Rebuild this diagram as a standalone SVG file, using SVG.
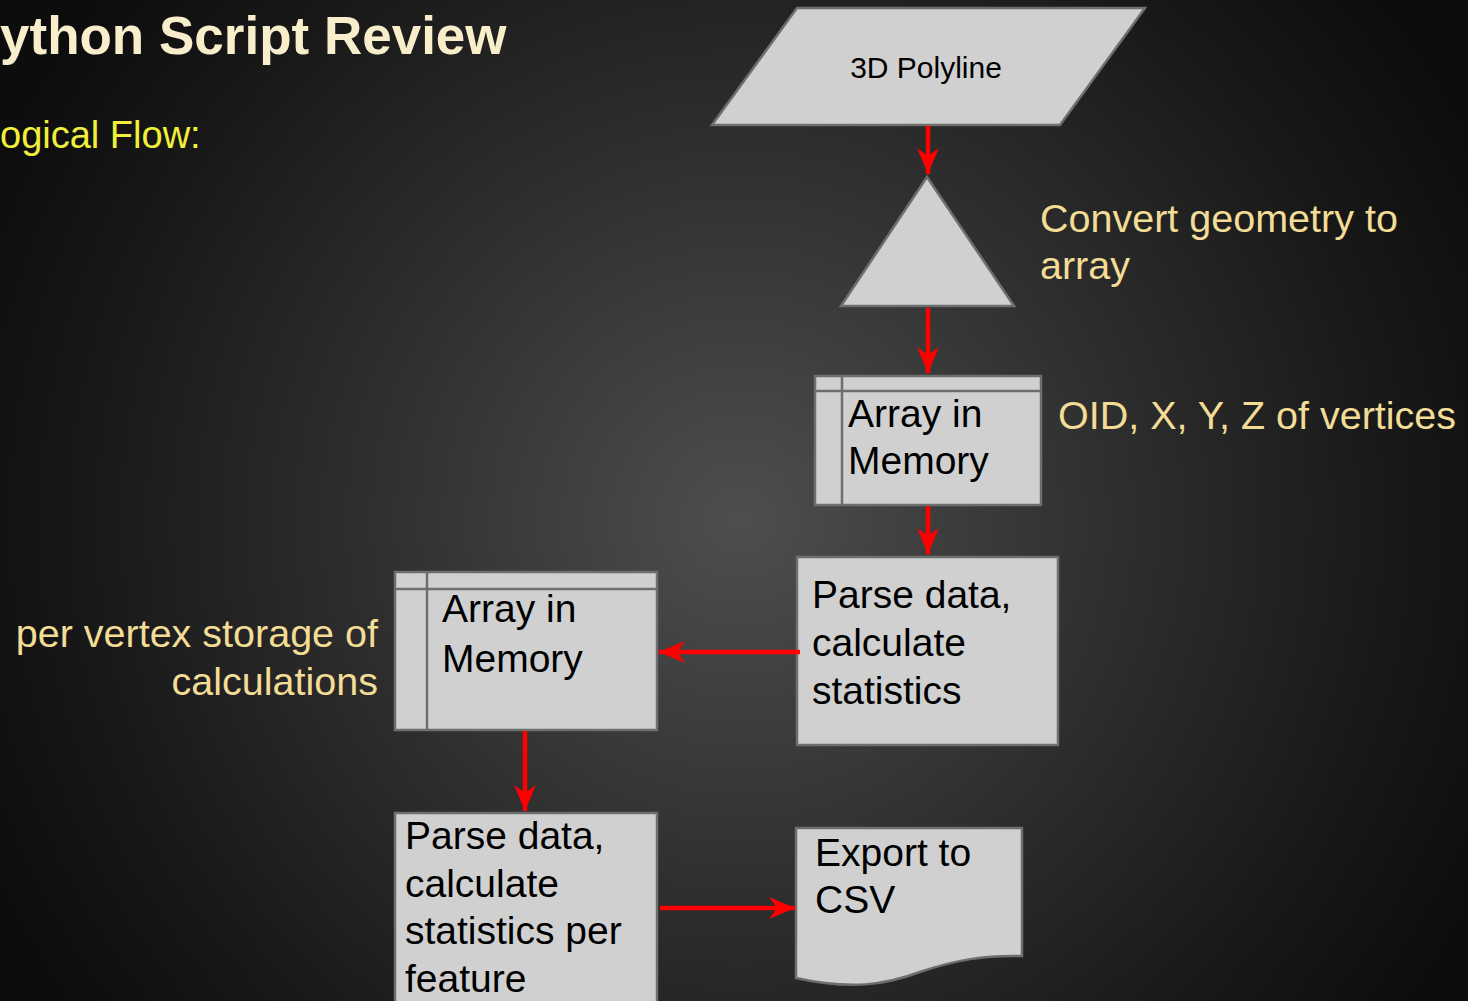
<svg xmlns="http://www.w3.org/2000/svg" width="1468" height="1001" viewBox="0 0 1468 1001">
  <defs>
    <radialGradient id="bg" cx="740" cy="520" r="820" gradientUnits="userSpaceOnUse">
      <stop offset="0" stop-color="#4e4e4e"/>
      <stop offset="0.45" stop-color="#2f2f2f"/>
      <stop offset="0.8" stop-color="#181818"/>
      <stop offset="1" stop-color="#0d0d0d"/>
    </radialGradient>
    <marker id="head" viewBox="0 0 26 22" refX="26" refY="11" markerWidth="26" markerHeight="22" markerUnits="userSpaceOnUse" orient="auto">
      <path d="M0,0 L26,11 L0,22 L8,11 Z" fill="#ff0000"/>
    </marker>
    <style>
      .shape { fill: #d0d0d0; stroke: #6e6e6e; stroke-width: 2.5; }
      .rule { stroke: #6e6e6e; stroke-width: 2.5; fill: none; }
      .node { font-family: "Liberation Sans", Arial, sans-serif; font-size: 39px; fill: #000; }
      .small { font-size: 30px; }
      .note { font-family: "Liberation Sans", Arial, sans-serif; font-size: 39.5px; fill: #f2dc96; }
      .flow { stroke: #ff0000; stroke-width: 4.5; fill: none; marker-end: url(#head); }
    </style>
  </defs>

  <rect width="1468" height="1001" fill="url(#bg)"/>

  <!-- slide heading -->
  <text x="0" y="54" font-family="'Liberation Sans', Arial, sans-serif" font-size="53" font-weight="bold" fill="#f8eecb">ython Script Review</text>
  <text x="0" y="148" font-family="'Liberation Sans', Arial, sans-serif" font-size="38" fill="#f0f03a">ogical Flow:</text>

  <!-- input data -->
  <g id="polyline">
    <polygon class="shape" points="797,8 1145,8 1060,125 712,125"/>
    <text class="node small" x="926" y="78" text-anchor="middle">3D Polyline</text>
  </g>

  <!-- extract step -->
  <g id="convert">
    <polygon class="shape" points="927,177 1014,306 841,306"/>
  </g>
  <g id="convert-note">
    <text class="note" x="1040" y="232">Convert geometry to</text>
    <text class="note" x="1040" y="279">array</text>
  </g>

  <!-- vertex array -->
  <g id="array-vertices">
    <rect class="shape" x="815" y="376" width="226" height="129"/>
    <line class="rule" x1="815" y1="391" x2="1041" y2="391"/>
    <line class="rule" x1="842" y1="376" x2="842" y2="505"/>
    <text class="node" x="848" y="427">Array in</text>
    <text class="node" x="848" y="474">Memory</text>
  </g>
  <g id="vertices-note">
    <text class="note" x="1058" y="429">OID, X, Y, Z of vertices</text>
  </g>

  <!-- per-vertex statistics -->
  <g id="parse-vertices">
    <rect class="shape" x="797" y="557" width="261" height="188"/>
    <text class="node" x="812" y="608">Parse data,</text>
    <text class="node" x="812" y="656">calculate</text>
    <text class="node" x="812" y="704">statistics</text>
  </g>

  <!-- results array -->
  <g id="array-results">
    <rect class="shape" x="395" y="572" width="262" height="158"/>
    <line class="rule" x1="395" y1="589" x2="657" y2="589"/>
    <line class="rule" x1="427" y1="572" x2="427" y2="730"/>
    <text class="node" x="442" y="622">Array in</text>
    <text class="node" x="442" y="672">Memory</text>
  </g>
  <g id="results-note">
    <text class="note" x="378" y="647" text-anchor="end">per vertex storage of</text>
    <text class="note" x="378" y="695" text-anchor="end">calculations</text>
  </g>

  <!-- per-feature statistics -->
  <g id="parse-features">
    <rect class="shape" x="395" y="813" width="262" height="200"/>
    <text class="node" x="405" y="849">Parse data,</text>
    <text class="node" x="405" y="897">calculate</text>
    <text class="node" x="405" y="944">statistics per</text>
    <text class="node" x="405" y="992">feature</text>
  </g>

  <!-- output document -->
  <g id="export">
    <path class="shape" d="M796,828 H1022 V956 C985,955 955,960 920,972 C885,985 850,990 796,978 Z"/>
    <text class="node" x="815" y="866">Export to</text>
    <text class="node" x="815" y="913">CSV</text>
  </g>

  <g id="connectors">
    <line class="flow" x1="928" y1="126" x2="928" y2="174"/>
    <line class="flow" x1="928" y1="308" x2="928" y2="373"/>
    <line class="flow" x1="928" y1="506" x2="928" y2="554"/>
    <line class="flow" x1="800" y1="652" x2="659" y2="652"/>
    <line class="flow" x1="525" y1="731" x2="525" y2="811"/>
    <line class="flow" x1="660" y1="908" x2="795" y2="908"/>
  </g>
</svg>
